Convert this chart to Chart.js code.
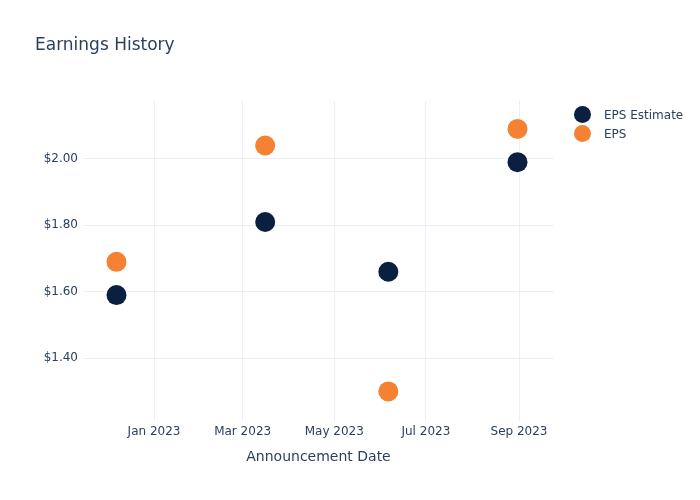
<!DOCTYPE html>
<html>
<head>
<meta charset="utf-8">
<script src="https://cdn.jsdelivr.net/npm/chart.js@4.4.0/dist/chart.umd.min.js"></script>
<style>
  body { margin: 0; background: #fff; }
  #wrap { position: relative; width: 700px; height: 500px; font-family: "DejaVu Sans", "Open Sans", sans-serif; color: #2a3f5f; }
  #title { position: absolute; left: 35px; top: 34px; font-size: 17px; }
  .legend { position: absolute; left: 574px; font-size: 12px; display: flex; align-items: center; }
  .legend span.dot { width: 17px; height: 17px; border-radius: 50%; display: inline-block; margin-right: 13px; }
</style>
</head>
<body>
<div id="wrap">
  <canvas id="earnings-chart" width="700" height="500"></canvas>
  <div id="title">Earnings History</div>
  <div class="legend" style="top:106px"><span class="dot" style="background:#0b1f41"></span>EPS Estimate</div>
  <div class="legend" style="top:125px"><span class="dot" style="background:#f58233"></span>EPS</div>
</div>
<script>
// announcement dates and values
const dates = ['2022-12-07', '2023-03-16', '2023-06-06', '2023-08-31'];
const epsEstimate = [1.59, 1.81, 1.66, 1.99];
const eps = [1.69, 2.04, 1.30, 2.09];

const xTickDates = ['2023-01-01', '2023-03-01', '2023-05-01', '2023-07-01', '2023-09-01'];
const xTickLabels = ['Jan 2023', 'Mar 2023', 'May 2023', 'Jul 2023', 'Sep 2023'];
const yTicks = [1.4, 1.6, 1.8, 2.0];

const toMs = (d) => Date.parse(d + 'T00:00:00Z');
const DAY = 86400000;

const textColor = '#2a3f5f';
const gridColor = '#ebf0f8';

const ctx = document.getElementById('earnings-chart');
new Chart(ctx, {
  type: 'scatter',
  data: {
    datasets: [{
      label: 'EPS Estimate',
      data: dates.map((d, i) => ({ x: toMs(d), y: epsEstimate[i] })),
      backgroundColor: '#0b1f41',
      borderWidth: 0,
      pointRadius: 10
    }, {
      label: 'EPS',
      data: dates.map((d, i) => ({ x: toMs(d), y: eps[i] })),
      backgroundColor: '#f58233',
      borderWidth: 0,
      pointRadius: 10
    }]
  },
  options: {
    responsive: false,
    animation: false,
    layout: { padding: { top: 101, right: 146, left: 0, bottom: 30 } },
    plugins: {
      legend: { display: false },
      title: { display: false },
      tooltip: { enabled: false }
    },
    scales: {
      x: {
        type: 'linear',
        min: toMs('2023-01-01') - 47.3 * DAY,
        max: toMs('2023-09-01') + 23.3 * DAY,
        border: { display: false },
        grid: { color: gridColor, drawTicks: false },
        afterBuildTicks: (scale) => {
          scale.ticks = xTickDates.map((d) => ({ value: toMs(d) }));
        },
        afterFit: (scale) => { scale.height = 49; },
        ticks: {
          color: textColor,
          padding: 4,
          maxRotation: 0,
          font: { family: 'DejaVu Sans', size: 12 },
          callback: (value) => {
            const idx = xTickDates.findIndex((d) => toMs(d) === value);
            return idx >= 0 ? xTickLabels[idx] : '';
          }
        },
        title: {
          display: true,
          text: 'Announcement Date',
          color: textColor,
          font: { family: 'DejaVu Sans', size: 14 },
          padding: { top: 8 }
        }
      },
      y: {
        type: 'linear',
        min: 1.211,
        max: 2.174,
        border: { display: false },
        grid: { color: gridColor, drawTicks: false },
        afterBuildTicks: (scale) => {
          scale.ticks = yTicks.map((v) => ({ value: v }));
        },
        afterFit: (scale) => { scale.width = 83; },
        ticks: {
          color: textColor,
          padding: 5,
          font: { family: 'DejaVu Sans', size: 12 },
          callback: (value) => '$' + Number(value).toFixed(2)
        }
      }
    }
  }
});
</script>
</body>
</html>
